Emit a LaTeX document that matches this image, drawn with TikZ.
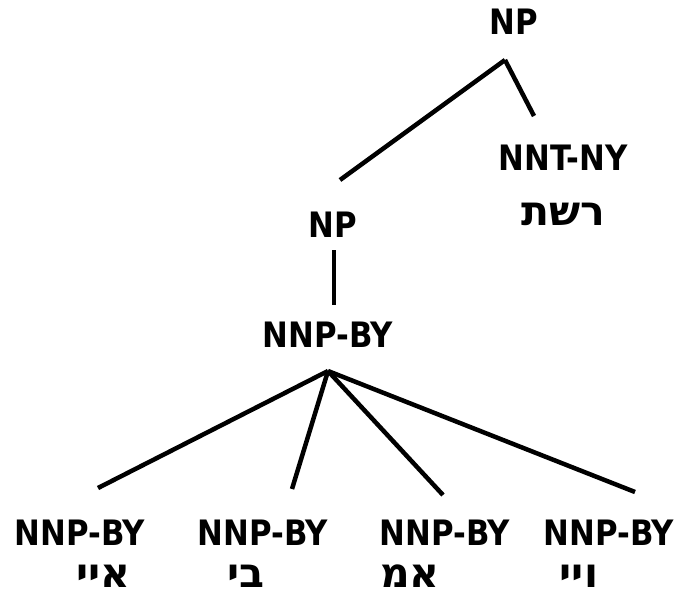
\documentclass[tikz,border=0pt]{standalone}
\usepackage{fontspec}
\setmainfont{DejaVu Sans}[FakeStretch=0.88]
\newfontfamily\hebfont[Script=Hebrew]{DejaVu Sans}
\TeXXeTstate=1
\tikzset{
	tag/.style={font=\fontsize{35}{40}\selectfont\bfseries, anchor=base, inner sep=0pt},
	word/.style={font=\hebfont\fontsize{41}{46}\selectfont\bfseries, anchor=base, inner sep=0pt},
	branch/.style={line width=4.5pt}
}
\begin{document}
\begin{tikzpicture}[x=1pt,y=-1pt]
			\useasboundingbox (0,0) rectangle (684,596);
			\node(np)	[tag] at (514,35) {NP};
			\node(nnt)	[tag] at (563,171) {NNT-NY};
			\node(reshet)	[word] at (563,225) {\beginR רשת\endR};
			\node(npx)	[tag] at (333,237) {NP};
			\node(nnp)	[tag] at (328,347) {NNP-BY};
			\node(l1)	[tag] at (80,545) {NNP-BY};
			\node(l2)	[tag] at (263,545) {NNP-BY};
			\node(l3)	[tag] at (445,545) {NNP-BY};
			\node(l4)	[tag] at (609,545) {NNP-BY};
			\node(w1)	[word] at (103,587) {\beginR איי\endR};
			\node(w2)	[word] at (246,587) {\beginR בי\endR};
			\node(w3)	[word] at (410,587) {\beginR אמ\endR};
			\node(w4)	[word] at (579,587) {\beginR ויי\endR};

			% branch ends
			\coordinate(np-b)	at (505,60);
			\coordinate(nnt-t)	at (534,116);
			\coordinate(npx-t)	at (340,180);
			\coordinate(npx-b)	at (334,250);
			\coordinate(nnp-t)	at (334,305);
			\coordinate(nnp-b)	at (328,371);
			\coordinate(l1-t)	at (98,488);
			\coordinate(l2-t)	at (292,489);
			\coordinate(l3-t)	at (443,495);
			\coordinate(l4-t)	at (635,492);

			\draw[branch](np-b) -- (nnt-t);
			\draw[branch](np-b) -- (npx-t);
			\draw[branch](npx-b) -- (nnp-t);
			\draw[branch](nnp-b) -- (l1-t);
			\draw[branch](nnp-b) -- (l2-t);
			\draw[branch](nnp-b) -- (l3-t);
			\draw[branch](nnp-b) -- (l4-t);
		\end{tikzpicture}
\end{document}
